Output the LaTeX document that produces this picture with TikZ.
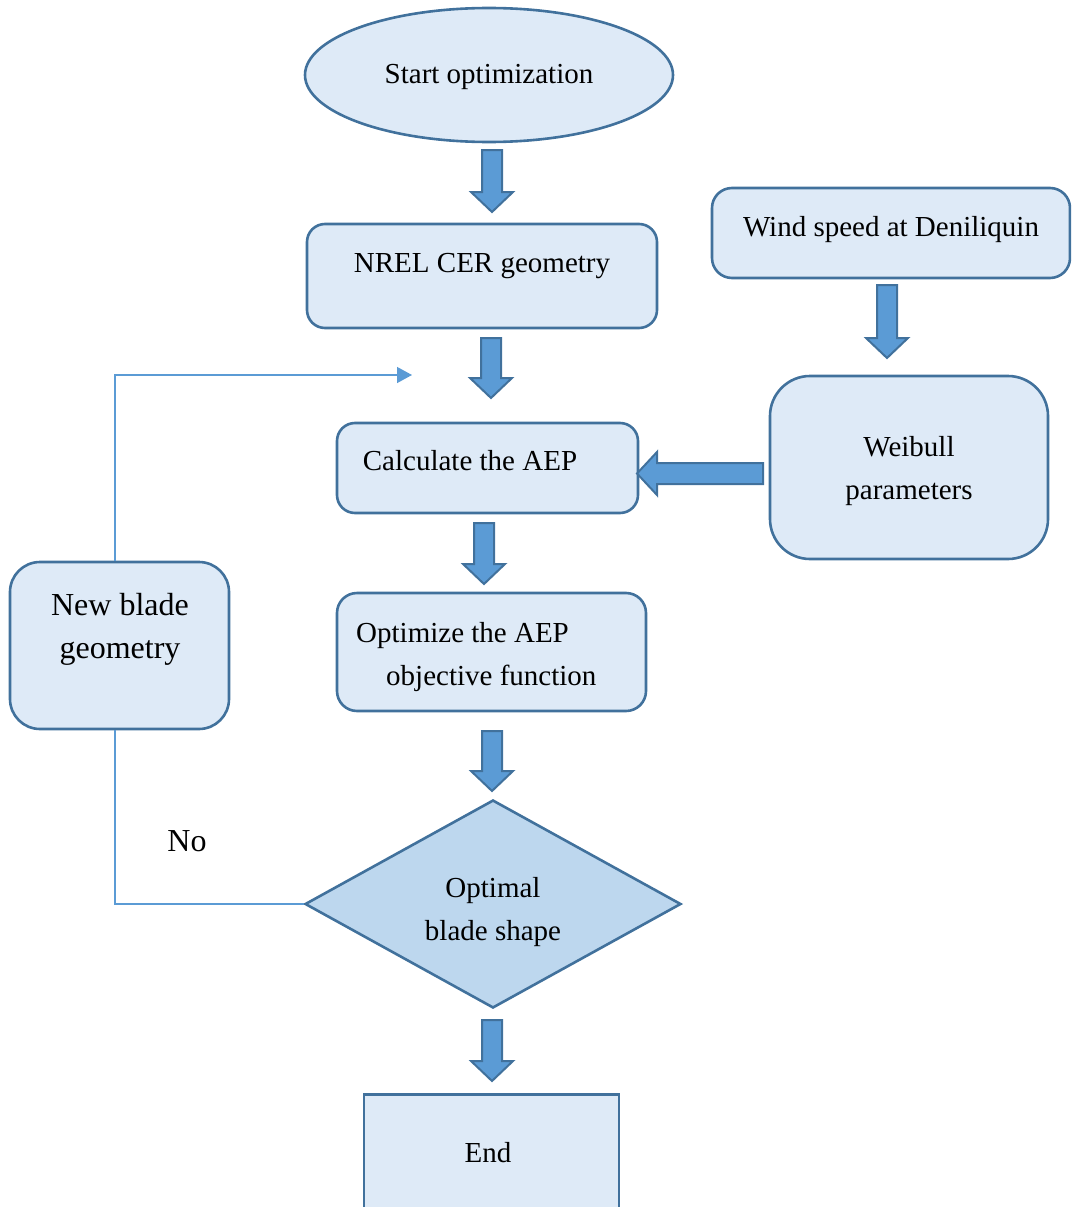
\documentclass[tikz,border=0pt]{standalone}
\usepackage{fontspec}
\setmainfont{Liberation Serif}
\usetikzlibrary{shapes.geometric,arrows.meta}
\definecolor{boxfill}{HTML}{DEEAF7}
\definecolor{boxline}{HTML}{41719C}
\definecolor{arrowfill}{HTML}{5B9BD5}
\definecolor{decfill}{HTML}{BDD7EE}
\definecolor{loopline}{HTML}{5B9BD5}
\tikzset{
  box/.style={draw=boxline, fill=boxfill, line width=2.6pt, rectangle, inner sep=0pt},
  lbl/.style={inner sep=0pt, anchor=base, font=\fontsize{29}{35}\selectfont},
  biglbl/.style={lbl, font=\fontsize{32}{38}\selectfont},
  blockarrow/.style={draw=boxline, fill=arrowfill, line width=2pt, line join=miter},
  loopconn/.style={draw=loopline, line width=1.4pt},
}
% downward block arrow: centre x, top y, tip y
\newcommand\downblock[3]{%
  \path[blockarrow] (#1-10,#2) -- (#1+10,#2) -- (#1+10,#3-20) -- (#1+21,#3-20)
    -- (#1,#3) -- (#1-21,#3-20) -- (#1-10,#3-20) -- cycle;}
\begin{document}
\begin{tikzpicture}[x=1pt,y=-1pt]
\useasboundingbox (0,0) rectangle (1071,1207);
\clip (0,0) rectangle (1071,1207);

% process boxes
\node[ellipse, draw=boxline, fill=boxfill, line width=2.6pt, inner sep=0pt,
      minimum width=368pt, minimum height=134pt] (start) at (489,75) {};
\node[box, rounded corners=18pt, minimum width=350pt, minimum height=104pt] (nrel) at (482,276) {};
\node[box, rounded corners=20pt, minimum width=358pt, minimum height=90pt] (wind) at (891,233) {};
\node[box, rounded corners=40pt, minimum width=278pt, minimum height=183pt] (weib) at (909,467.5) {};
\node[box, rounded corners=18pt, minimum width=301pt, minimum height=90pt] (calc) at (487.5,468) {};
\node[box, rounded corners=20pt, minimum width=309pt, minimum height=118pt] (optz) at (491.5,652) {};
\node[box, rounded corners=30pt, minimum width=219pt, minimum height=167pt] (newb) at (119.5,645.5) {};
\node[diamond, draw=boxline, fill=decfill, line width=2.6pt, inner sep=0pt,
      minimum width=376pt, minimum height=208pt] (optm) at (493,904) {};
\node[box, minimum width=255pt, minimum height=140pt, anchor=north] (endb) at (491.5,1093) {};

% texts (placed on their baselines)
\node[lbl] (tstart) at (489,84) {Start optimization};
\node[lbl] (tnrel) at (482,272) {NREL CER geometry};
\node[lbl] (twind) at (891,236) {Wind speed at Deniliquin};
\node[lbl] (tweib1) at (909,456) {Weibull};
\node[lbl] (tweib2) at (909,499) {parameters};
\node[lbl] (tcalc) at (470,470) {Calculate the AEP};
\node[lbl, anchor=base west] (topt1) at (356,642) {Optimize the AEP};
\node[lbl, anchor=base west] (topt2) at (386,685) {objective function};
\node[biglbl] (tnew1) at (120,615) {New blade};
\node[biglbl] (tnew2) at (120,658) {geometry};
\node[lbl] (tdec1) at (493,897) {Optimal};
\node[lbl] (tdec2) at (493,940) {blade shape};
\node[lbl] (tend) at (488,1162) {End};
\node[biglbl] (tno) at (187,851) {No};

% block arrows along the main flow
\downblock{492}{150}{212}
\downblock{491}{338}{398}
\downblock{887}{285}{358}
\downblock{484}{523}{584}
\downblock{492}{731}{791}
\downblock{492}{1020}{1081}
\path[blockarrow] (763,463) -- (763,484) -- (657,484) -- (657,495) -- (637,473.5)
  -- (657,452) -- (657,463) -- cycle;

% feedback loop for a non-optimal shape
\coordinate (loopx) at (115,909);
\coordinate (entry) at (412,375);
\draw[loopconn] (optm.west) -- (optm.west -| loopx) -- (loopx |- newb.south);
\draw[loopconn, -{Triangle[length=15pt, width=16pt]}] (loopx |- newb.north) -- (loopx |- entry) -- (entry);
\end{tikzpicture}
\end{document}
